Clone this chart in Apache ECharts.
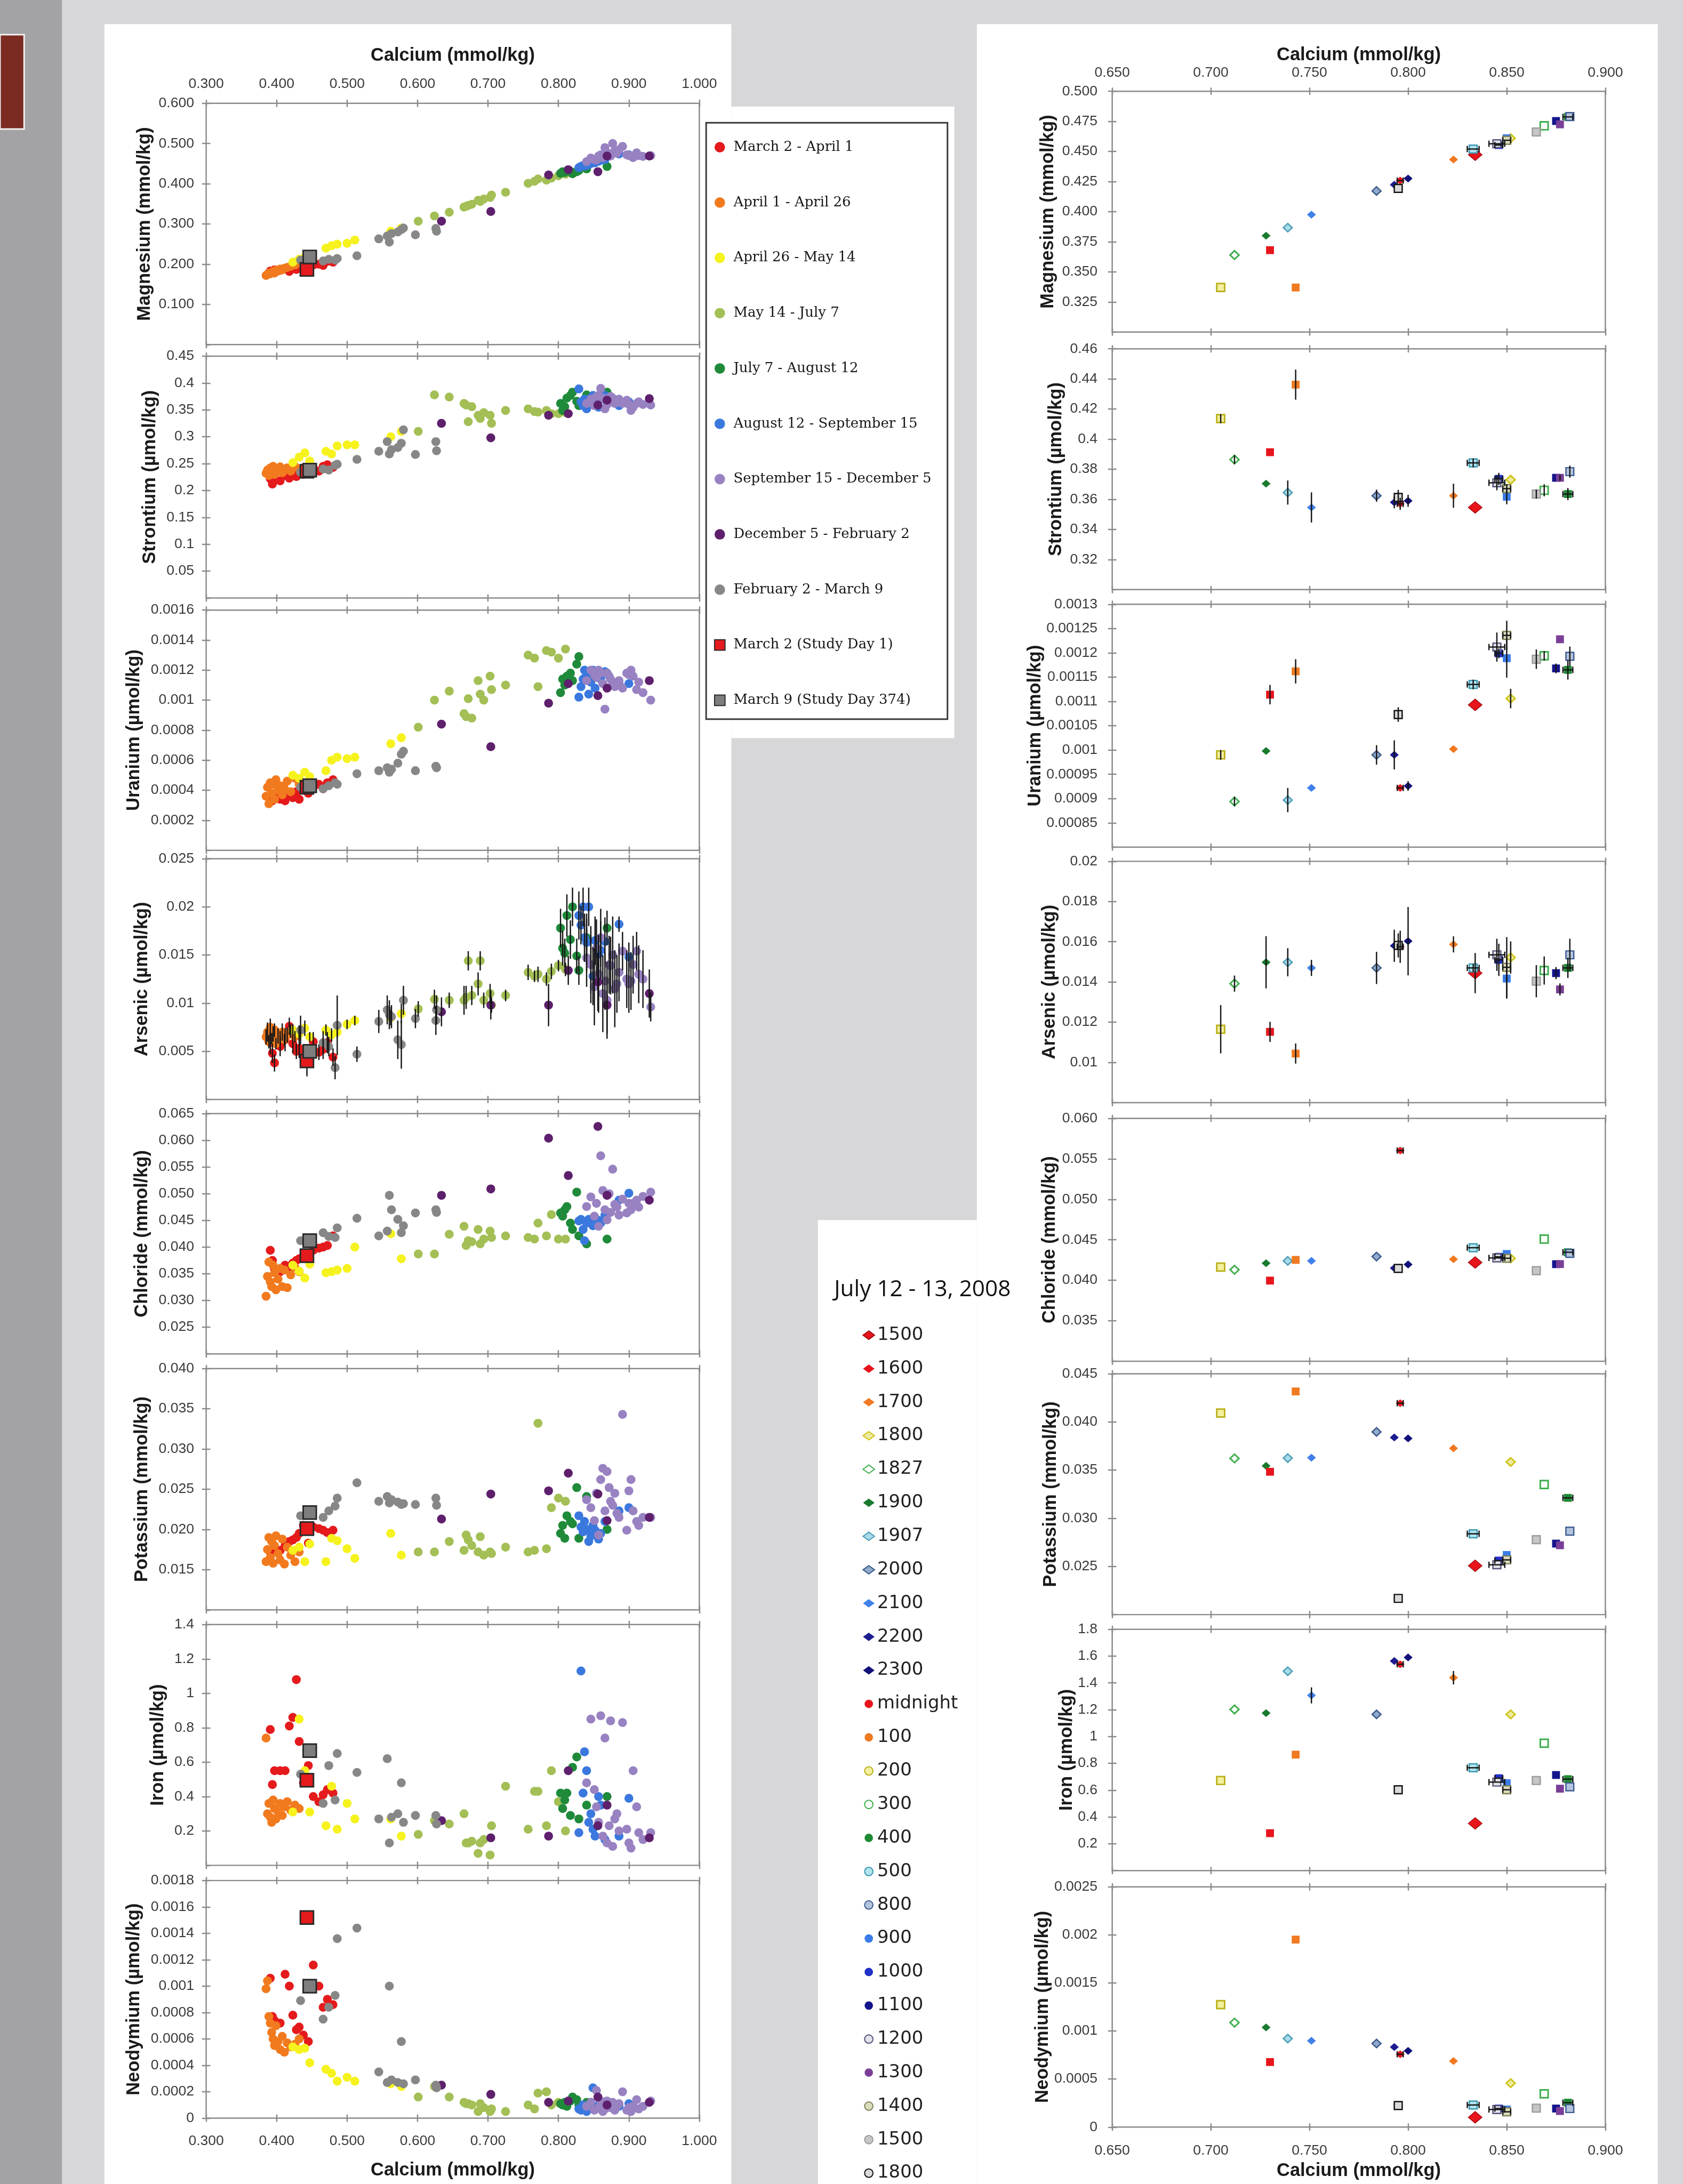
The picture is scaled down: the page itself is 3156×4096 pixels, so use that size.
<!DOCTYPE html>
<html><head><meta charset="utf-8"><title>Calcium cross-plots</title>
<script src="https://cdn.jsdelivr.net/npm/echarts@6.0.0/dist/echarts.min.js"></script>
<style>html,body{margin:0;padding:0;background:#d7d7d9;overflow:hidden}#c{width:3156px;height:4096px}</style>
</head><body><div id="c"></div>
<script>
// ================= DATA =================
// Left column: seasonal samples. Row = [Ca, Mg, Sr, U, As, Cl, K, Fe, Nd, As error]
const periodNames = ['March 2 - April 1','April 1 - April 26','April 26 - May 14','May 14 - July 7','July 7 - August 12','August 12 - September 15','September 15 - December 5','December 5 - February 2','February 2 - March 9'];
const studyDayNames = ['March 2 (Study Day 1)','March 9 (Study Day 374)'];

const marchApril = [
[0.391,0.183,0.222,0.00036,0.0059,0.0394,0.0172,0.79,0.00106,0.0012],
[0.394,0.180,0.212,0.00033,0.0048,0.0375,0.0175,0.47,0.00077,0.0010],
[0.397,0.186,0.225,0.00035,0.0038,0.0360,0.0178,0.55,0.00074,0.0009],
[0.405,0.185,0.218,0.00034,0.0055,0.0354,0.0174,0.55,0.00072,0.0010],
[0.412,0.189,0.228,0.00033,0.0062,0.0366,0.0180,0.55,0.00109,0.0012],
[0.418,0.182,0.223,0.00037,0.0076,0.0362,0.0185,0.81,0.00100,0.0009],
[0.423,0.190,0.231,0.00035,0.0058,0.0370,0.0187,0.86,0.00078,0.0010],
[0.428,0.187,0.226,0.00039,0.0050,0.0375,0.0190,1.08,0.00067,0.0008],
[0.432,0.194,0.235,0.00034,0.0053,0.0378,0.0195,0.72,0.00069,0.0010],
[0.438,0.190,0.230,0.00040,0.0047,0.0384,0.0205,0.48,0.00063,0.0009],
[0.445,0.196,0.238,0.00038,0.0045,0.0388,0.0183,0.58,0.00058,0.0012],
[0.452,0.198,0.242,0.00042,0.0060,0.0394,0.0203,0.40,0.00116,0.0010],
[0.460,0.200,0.236,0.00044,0.0049,0.0398,0.0201,0.37,0.00100,0.0008],
[0.466,0.197,0.245,0.00041,0.0052,0.0400,0.0199,0.41,0.00084,0.0010],
[0.472,0.207,0.248,0.00045,0.0059,0.0403,0.0196,0.44,0.00090,0.0011],
[0.480,0.205,0.243,0.00047,0.0044,0.0421,0.0199,0.42,0.00086,0.0009]];
const aprilApril = [
[0.385,0.172,0.232,0.00036,0.0065,0.0308,0.0160,0.74,0.00098,0.0008],
[0.387,0.175,0.238,0.00042,0.0070,0.0345,0.0175,0.30,0.00104,0.0010],
[0.389,0.178,0.228,0.00031,0.0060,0.0372,0.0190,0.36,0.00077,0.0007],
[0.391,0.176,0.242,0.00045,0.0075,0.0335,0.0165,0.28,0.00072,0.0009],
[0.393,0.180,0.235,0.00038,0.0063,0.0326,0.0185,0.25,0.00065,0.0006],
[0.395,0.182,0.245,0.00044,0.0068,0.0366,0.0158,0.38,0.00060,0.0008],
[0.397,0.178,0.230,0.00034,0.0072,0.0352,0.0180,0.33,0.00055,0.0007],
[0.399,0.185,0.240,0.00047,0.0058,0.0320,0.0192,0.27,0.00070,0.0006],
[0.402,0.183,0.236,0.00040,0.0066,0.0340,0.0170,0.31,0.00058,0.0008],
[0.405,0.188,0.244,0.00043,0.0064,0.0360,0.0162,0.36,0.00052,0.0007],
[0.408,0.186,0.233,0.00037,0.0070,0.0326,0.0188,0.29,0.00062,0.0009],
[0.411,0.190,0.239,0.00041,0.0062,0.0357,0.0157,0.34,0.00050,0.0006],
[0.415,0.192,0.242,0.00046,0.0067,0.0324,0.0178,0.37,0.00057,0.0008],
[0.420,0.195,0.236,0.00039,0.0071,0.0348,0.0168,0.32,0.00054,0.0007],
[0.426,0.198,0.245,0.00048,0.0065,0.0362,0.0160,0.35,0.00056,0.0006],
[0.432,0.203,0.240,0.00044,0.0069,0.0354,0.0172,0.33,0.00060,0.0008]];
const aprilMay = [
[0.423,0.205,0.252,0.00050,0.0072,0.0366,0.0174,0.31,0.00054,0.0006],
[0.432,0.212,0.262,0.00048,0.0068,0.0355,0.0178,0.85,0.00052,0.0006],
[0.440,0.218,0.270,0.00052,0.0074,0.0342,0.0160,0.55,0.00053,0.0008],
[0.447,0.215,0.255,0.00049,0.0065,0.0368,0.0182,0.31,0.00042,0.0005],
[0.470,0.240,0.273,0.00053,0.0072,0.0352,0.0160,0.23,0.00037,0.0006],
[0.478,0.246,0.268,0.00060,0.0067,0.0354,0.0189,0.46,0.00034,0.0007],
[0.486,0.250,0.283,0.00062,0.0070,0.0357,0.0186,0.21,0.00028,0.0006],
[0.500,0.252,0.285,0.00061,0.0078,0.0360,0.0176,0.36,0.00031,0.0005],
[0.511,0.260,0.285,0.00062,0.0082,0.0400,0.0164,0.27,0.00028,0.0005],
[0.562,0.282,0.300,0.00071,0.0085,0.0425,0.0195,0.27,0.00026,0.0008],
[0.577,0.290,0.310,0.00075,0.0089,0.0378,0.0168,0.17,0.00024,0.0010]];
const mayJuly = [
[0.601,0.307,0.310,0.00082,0.0094,0.0387,0.0172,0.18,0.00016,0.0008],
[0.624,0.320,0.378,0.00100,0.0104,0.0387,0.0172,0.26,0.00024,0.0010],
[0.645,0.329,0.374,0.00106,0.0103,0.0424,0.0185,0.24,0.00016,0.0008],
[0.666,0.342,0.362,0.00091,0.0103,0.0439,0.0174,0.30,0.00012,0.0015],
[0.669,0.344,0.359,0.00089,0.0106,0.0403,0.0193,0.13,0.00011,0.0012],
[0.672,0.346,0.328,0.00101,0.0144,0.0412,0.0187,0.13,0.00011,0.0010],
[0.677,0.349,0.356,0.00088,0.0108,0.0410,0.0180,0.14,0.00010,0.0010],
[0.686,0.359,0.340,0.00113,0.0120,0.0433,0.0172,0.07,0.00005,0.0012],
[0.689,0.356,0.334,0.00104,0.0144,0.0406,0.0191,0.13,0.00011,0.0010],
[0.694,0.362,0.345,0.00100,0.0103,0.0415,0.0168,0.15,0.00008,0.0008],
[0.703,0.366,0.340,0.00116,0.0110,0.0430,0.0172,0.06,0.00005,0.0010],
[0.705,0.372,0.325,0.00107,0.0098,0.0418,0.0170,0.23,0.00007,0.0008],
[0.725,0.379,0.349,0.00110,0.0108,0.0421,0.0178,0.46,0.00005,0.0006],
[0.757,0.401,0.352,0.00130,0.0132,0.0418,0.0172,0.21,0.00010,0.0008],
[0.766,0.406,0.347,0.00128,0.0128,0.0415,0.0174,0.43,0.00007,0.0006],
[0.771,0.412,0.346,0.00109,0.0130,0.0445,0.0332,0.43,0.00019,0.0008],
[0.783,0.409,0.349,0.00133,0.0125,0.0421,0.0176,0.23,0.00020,0.0007],
[0.790,0.414,0.343,0.00132,0.0133,0.0461,0.0227,0.55,0.00010,0.0008],
[0.800,0.420,0.343,0.00128,0.0139,0.0415,0.0239,0.37,0.00012,0.0006],
[0.810,0.424,0.345,0.00134,0.0135,0.0415,0.0235,0.20,0.00010,0.0007]];
const julyAugust = [
[0.803,0.426,0.362,0.00105,0.0178,0.0464,0.0195,0.42,0.00011,0.0020],
[0.806,0.430,0.349,0.00114,0.0157,0.0458,0.0205,0.33,0.00010,0.0018],
[0.809,0.428,0.356,0.00110,0.0152,0.0470,0.0189,0.38,0.00012,0.0015],
[0.812,0.432,0.372,0.00116,0.0191,0.0476,0.0217,0.42,0.00009,0.0022],
[0.817,0.431,0.377,0.00118,0.0166,0.0445,0.0210,0.29,0.00013,0.0020],
[0.820,0.425,0.383,0.00113,0.0200,0.0433,0.0207,0.57,0.00016,0.0020],
[0.826,0.430,0.366,0.00124,0.0149,0.0503,0.0252,0.63,0.00014,0.0018],
[0.829,0.433,0.358,0.00129,0.0134,0.0421,0.0189,0.27,0.00010,0.0015],
[0.840,0.437,0.378,0.00115,0.0168,0.0406,0.0241,0.35,0.00012,0.0020],
[0.869,0.443,0.383,0.00118,0.0178,0.0415,0.0200,0.40,0.00011,0.0018]];
const augustSeptember = [
[0.829,0.440,0.389,0.00102,0.0191,0.0449,0.0217,0.19,0.00007,0.0025],
[0.832,0.443,0.365,0.00109,0.0181,0.0452,0.0203,1.13,0.00006,0.0020],
[0.835,0.445,0.358,0.00114,0.0200,0.0433,0.0197,0.42,0.00010,0.0020],
[0.837,0.444,0.370,0.00120,0.0168,0.0412,0.0210,0.66,0.00008,0.0025],
[0.840,0.446,0.352,0.00117,0.0163,0.0445,0.0200,0.55,0.00005,0.0030],
[0.843,0.447,0.360,0.00104,0.0200,0.0452,0.0185,0.25,0.00009,0.0020],
[0.846,0.450,0.372,0.00112,0.0140,0.0448,0.0192,0.30,0.00012,0.0030],
[0.849,0.454,0.377,0.00120,0.0128,0.0440,0.0205,0.21,0.00023,0.0030],
[0.852,0.452,0.365,0.00108,0.0165,0.0455,0.0199,0.17,0.00008,0.0025],
[0.857,0.456,0.355,0.00115,0.0151,0.0450,0.0188,0.40,0.00010,0.0020],
[0.860,0.458,0.370,0.00114,0.0155,0.0445,0.0195,0.35,0.00007,0.0030],
[0.866,0.460,0.377,0.00119,0.0164,0.0460,0.0210,0.15,0.00012,0.0025],
[0.886,0.474,0.358,0.00111,0.0182,0.0488,0.0223,0.17,0.00009,0.0008],
[0.900,0.472,0.365,0.00111,0.0148,0.0501,0.0227,0.39,0.00011,0.0015]];
const septemberDecember = [
[0.840,0.455,0.362,0.00113,0.0147,0.0476,0.0237,0.48,0.00009,0.0030],
[0.846,0.464,0.370,0.00120,0.0140,0.0494,0.0227,0.85,0.00012,0.0040],
[0.851,0.460,0.358,0.00117,0.0117,0.0458,0.0211,0.44,0.00006,0.0040],
[0.854,0.459,0.375,0.00115,0.0157,0.0482,0.0245,0.34,0.00021,0.0030],
[0.857,0.469,0.377,0.00120,0.0130,0.0439,0.0193,0.25,0.00008,0.0040],
[0.860,0.472,0.390,0.00118,0.0168,0.0571,0.0262,0.87,0.00013,0.0030],
[0.863,0.465,0.372,0.00111,0.0110,0.0506,0.0276,0.17,0.00005,0.0040],
[0.866,0.490,0.352,0.00094,0.0123,0.0470,0.0223,0.74,0.00007,0.0030],
[0.869,0.478,0.360,0.00118,0.0103,0.0451,0.0272,0.13,0.00013,0.0040],
[0.872,0.470,0.368,0.00116,0.0140,0.0500,0.0252,0.23,0.00010,0.0030],
[0.874,0.469,0.375,0.00114,0.0139,0.0465,0.0235,0.84,0.00008,0.0030],
[0.877,0.500,0.372,0.00112,0.0150,0.0546,0.0230,0.11,0.00012,0.0040],
[0.880,0.482,0.362,0.00109,0.0115,0.0480,0.0245,0.27,0.00006,0.0040],
[0.883,0.476,0.365,0.00111,0.0120,0.0475,0.0220,0.30,0.00009,0.0030],
[0.886,0.485,0.370,0.00113,0.0132,0.0460,0.0215,0.20,0.00011,0.0030],
[0.891,0.493,0.362,0.00108,0.0154,0.0490,0.0343,0.83,0.00020,0.0020],
[0.897,0.472,0.368,0.00118,0.0125,0.0464,0.0199,0.21,0.00006,0.0030],
[0.900,0.470,0.360,0.00117,0.0120,0.0482,0.0248,0.13,0.00008,0.0030],
[0.903,0.469,0.349,0.00120,0.0123,0.0470,0.0262,0.10,0.00005,0.0030],
[0.906,0.465,0.355,0.00116,0.0140,0.0482,0.0223,0.55,0.00009,0.0030],
[0.911,0.477,0.362,0.00107,0.0154,0.0488,0.0210,0.34,0.00014,0.0020],
[0.914,0.470,0.365,0.00112,0.0130,0.0475,0.0205,0.19,0.00007,0.0030],
[0.920,0.468,0.360,0.00105,0.0125,0.0495,0.0215,0.15,0.00009,0.0030],
[0.931,0.470,0.359,0.00100,0.0096,0.0503,0.0215,0.19,0.00013,0.0015]];
const decemberFebruary = [
[0.634,0.307,0.325,0.00084,0.0091,0.0497,0.0213,0.26,0.00025,0.0015],
[0.704,0.331,0.298,0.00069,0.0098,0.0509,0.0244,0.16,0.00018,0.0015],
[0.786,0.422,0.340,0.00098,0.0098,0.0604,0.0248,0.17,0.00012,0.0022],
[0.814,0.435,0.343,0.00111,0.0134,0.0534,0.0270,0.55,0.00013,0.0015],
[0.856,0.430,0.359,0.00103,0.0122,0.0626,0.0244,0.23,0.00016,0.0030],
[0.869,0.469,0.368,0.00108,0.0098,0.0497,0.0211,0.35,0.00010,0.0030],
[0.929,0.469,0.371,0.00113,0.0110,0.0488,0.0215,0.16,0.00012,0.0025]];
const februaryMarch = [
[0.434,0.210,0.234,0.00042,0.0072,0.0412,0.0217,0.53,0.00089,0.0015],
[0.466,0.208,0.240,0.00041,0.0059,0.0427,0.0215,0.36,0.00075,0.0012],
[0.474,0.212,0.238,0.00043,0.0055,0.0420,0.0223,0.58,0.00084,0.0010],
[0.483,0.210,0.247,0.00045,0.0033,0.0418,0.0229,0.38,0.00093,0.0012],
[0.486,0.214,0.249,0.00044,0.0077,0.0436,0.0239,0.65,0.00136,0.0031],
[0.514,0.221,0.258,0.00051,0.0047,0.0454,0.0258,0.54,0.00144,0.0008],
[0.545,0.263,0.273,0.00053,0.0081,0.0421,0.0235,0.27,0.00035,0.0012],
[0.557,0.270,0.291,0.00055,0.0093,0.0430,0.0241,0.62,0.00027,0.0015],
[0.560,0.255,0.268,0.00052,0.0088,0.0497,0.0233,0.13,0.00100,0.0015],
[0.563,0.276,0.276,0.00054,0.0086,0.0470,0.0237,0.28,0.00029,0.0012],
[0.572,0.280,0.280,0.00058,0.0062,0.0452,0.0234,0.30,0.00027,0.0020],
[0.577,0.286,0.288,0.00064,0.0057,0.0427,0.0231,0.48,0.00058,0.0025],
[0.580,0.290,0.313,0.00066,0.0103,0.0440,0.0232,0.25,0.00026,0.0015],
[0.597,0.273,0.267,0.00053,0.0084,0.0464,0.0231,0.29,0.00029,0.0010],
[0.626,0.289,0.291,0.00056,0.0082,0.0470,0.0239,0.29,0.00025,0.0015],
[0.627,0.282,0.274,0.00055,0.0093,0.0465,0.0230,0.24,0.00023,0.0015]];
const studyDay1 = [[0.443,0.187,0.236,0.00042,0.0040,0.0384,0.0201,0.495,0.00152,0.0016]];
const studyDay374 = [[0.447,0.218,0.238,0.00043,0.0050,0.0412,0.0221,0.667,0.00100,0.0006]];

// Right column: diurnal samples, July 12 - 13, 2008.
// Row = [Ca, Ca err, Mg, Sr, Sr err, U, U err, As, As err, Cl, K, Fe, Fe err, Nd]
const diurnalNames = ['1500','1600','1700','1800','1827','1900','1907','2000','2100','2200','2300','midnight','100','200','300','400','500','800','900','1000','1100','1200','1300','1400','1500 ','1800 '];
const diurnal = [
[0.834,0,0.4473,0.3546,0,0.001093,0,0.01444,0.0010,0.0422,0.02507,0.352,0,0.000102],
[0.796,0.0015,0.4258,0.3570,0.004,0.000922,0,0.01575,0.0008,0.05602,0.04195,1.539,0,0.000758],
[0.823,0,0.4433,0.3624,0.008,0.001002,0,0.01587,0.0004,0.0426,0.03727,1.439,0.05,0.000687],
[0.852,0,0.4610,0.3730,0,0.001106,0.00002,0.01522,0.0008,0.0427,0.03585,1.165,0,0.000457],
[0.712,0,0.3640,0.3864,0.003,0.000894,0.00001,0.01392,0.0004,0.0413,0.03622,1.202,0,0.001087],
[0.728,0,0.3800,0.3704,0,0.000998,0,0.01498,0.0013,0.04211,0.03544,1.175,0,0.001037],
[0.739,0,0.3867,0.3645,0.008,0.000897,0.000025,0.01498,0.0007,0.0424,0.03625,1.487,0,0.000921],
[0.784,0,0.4172,0.3624,0.004,0.000990,0.00002,0.01470,0.0008,0.04293,0.03897,1.165,0,0.000870],
[0.751,0,0.3975,0.3546,0.010,0.000922,0,0.01470,0.0004,0.0424,0.03629,1.307,0.06,0.000898],
[0.793,0,0.4224,0.3580,0.004,0.000990,0.00003,0.01580,0.0008,0.0415,0.03839,1.563,0,0.000833],
[0.800,0,0.4275,0.3590,0.004,0.000926,0.00001,0.01603,0.0017,0.04195,0.03829,1.590,0,0.000793],
[0.730,0,0.3680,0.3913,0,0.001114,0.00002,0.01152,0.0005,0.03996,0.03483,0.279,0,0.000677],
[0.743,0,0.3370,0.4362,0.010,0.001162,0.000025,0.01044,0.0005,0.04252,0.04317,0.865,0,0.001951],
[0.705,0,0.3370,0.4136,0.003,0.000990,0.00001,0.01165,0.0012,0.04163,0.04093,0.672,0,0.001274],
[0.869,0,0.4713,0.3660,0.004,0.001194,0.00001,0.01457,0.0007,0.04508,0.03351,0.950,0,0.000346],
[0.881,0.0025,0.4787,0.3635,0.004,0.001165,0.00002,0.01470,0.0005,0.04346,0.03212,0.682,0,0.000254],
[0.833,0.003,0.4520,0.3842,0.003,0.001135,0.00001,0.01470,0.0002,0.04402,0.02839,0.767,0,0.000230],
[0.882,0,0.4790,0.3784,0.004,0.001193,0.00002,0.01535,0.0008,0.04333,0.02866,0.625,0,0.000193],
[0.850,0,0.4610,0.3617,0.005,0.001189,0.00004,0.01417,0.0010,0.04325,0.02619,0.652,0,0.000183],
[0.846,0.002,0.4553,0.3736,0.004,0.001199,0.00001,0.01510,0.0008,0.0429,0.02561,0.689,0,0.000193],
[0.875,0,0.4753,0.3743,0,0.001168,0.00001,0.01444,0.0003,0.04199,0.02737,0.713,0,0.000193],
[0.845,0.004,0.4564,0.3710,0.005,0.001212,0.00003,0.01535,0.0008,0.04276,0.02517,0.660,0,0.000183],
[0.877,0,0.4725,0.3743,0.002,0.001228,0,0.01363,0.0003,0.0420,0.0272,0.611,0,0.000167],
[0.850,0.002,0.4593,0.3671,0.003,0.001236,0.00003,0.01473,0.0015,0.04272,0.02568,0.603,0,0.000159],
[0.865,0,0.4662,0.3635,0.003,0.001187,0.00002,0.01404,0.0008,0.04118,0.02778,0.672,0,0.000197],
[0.795,0,0.4193,0.3613,0.005,0.001073,0.000015,0.01582,0.0006,0.04146,0.02168,0.603,0,0.000224]];

// axis titles / ranges
const leftAxes = [
 {name:'Magnesium (mmol/kg)', min:0, max:0.6, interval:0.1, fixed:3},
 {name:'Strontium (µmol/kg)', min:0, max:0.45, interval:0.05},
 {name:'Uranium (µmol/kg)', min:0, max:0.0016, interval:0.0002},
 {name:'Arsenic (µmol/kg)', min:0, max:0.025, interval:0.005},
 {name:'Chloride (mmol/kg)', min:0.02, max:0.065, interval:0.005, fixed:3},
 {name:'Potassium (mmol/kg)', min:0.01, max:0.04, interval:0.005, fixed:3},
 {name:'Iron (µmol/kg)', min:0, max:1.4, interval:0.2},
 {name:'Neodymium (µmol/kg)', min:0, max:0.0018, interval:0.0002, showMin:true}];
const rightAxes = [
 {name:'Magnesium (mmol/kg)', min:0.3, max:0.5, interval:0.025, fixed:3},
 {name:'Strontium (µmol/kg)', min:0.30, max:0.46, interval:0.02},
 {name:'Uranium (µmol/kg)', min:0.0008, max:0.0013, interval:0.00005},
 {name:'Arsenic (µmol/kg)', min:0.008, max:0.020, interval:0.002},
 {name:'Chloride (mmol/kg)', min:0.030, max:0.060, interval:0.005, fixed:3},
 {name:'Potassium (mmol/kg)', min:0.020, max:0.045, interval:0.005, fixed:3},
 {name:'Iron (µmol/kg)', min:0, max:1.8, interval:0.2},
 {name:'Neodymium (µmol/kg)', min:0, max:0.0025, interval:0.0005, showMin:true}];
const calciumName = 'Calcium (mmol/kg)';
const leftCa = {min:0.3, max:1.0, interval:0.1};
const rightCa = {min:0.65, max:0.90, interval:0.05};
const legendTitle = 'July 12 - 13, 2008';

// ================= LAYOUT / STYLE =================
const S = 3156 / 3208;
const px = v => v * S;
const AX = '#8a8a8a';
const NARROW = "'Liberation Sans Narrow','Liberation Sans',Arial,sans-serif";
const LABEL = {fontFamily: NARROW, fontSize: px(27), color: '#3a3a3a'};
const NAME = {fontFamily: NARROW, fontSize: px(35), fontWeight: 'bold', color: '#1a1a1a'};

const leftLayout = {left:393, right:1333, yMargin:23, topMargin:23, topGap:73.5, botMargin:30, botGap:82.5,
  panels:[[197,657],[679,1140],[1163,1621],[1637,2096],[2123,2581],[2609,3069],[3097,3556],[3585,4038]],
  gaps:[100,89.5,120,104.5,104.5,104.5,74.5,120.5]};
const rightLayout = {left:2120, right:3060, yMargin:28, topMargin:21, topGap:51, botMargin:31, botGap:66,
  panels:[[174,633],[665,1124],[1152,1615],[1642,2102],[2132,2595],[2619,3078],[3106,3566],[3597,4055]],
  gaps:[104.5,89.5,125.5,101.5,101.5,97.5,68.5,109.5]};

const leftSets = [
 {name:periodNames[0], rows:marchApril, color:'#e41a1c'},
 {name:periodNames[1], rows:aprilApril, color:'#f27a1e'},
 {name:periodNames[2], rows:aprilMay, color:'#f6f21e'},
 {name:periodNames[3], rows:mayJuly, color:'#a3bf55'},
 {name:periodNames[4], rows:julyAugust, color:'#1f8a3a'},
 {name:periodNames[5], rows:augustSeptember, color:'#3a78de'},
 {name:periodNames[6], rows:septemberDecember, color:'#9882c2'},
 {name:periodNames[7], rows:decemberFebruary, color:'#5e1f6c'},
 {name:periodNames[8], rows:februaryMarch, color:'#878787'},
 {name:studyDayNames[0], rows:studyDay1, color:'#e41a1c', square:true},
 {name:studyDayNames[1], rows:studyDay374, color:'#7e7e7e', square:true}];

const diurnalStyle = [
 {sym:'diamond', size:[26,22], color:'#e8141c', border:'#a80c10', bw:1.5},
 {sym:'diamond', size:[17,15], color:'#e8141c'},
 {sym:'diamond', size:[17,15], color:'#f07820'},
 {sym:'diamond', size:[17,16], color:'#eceaa0', border:'#cfc61c', bw:3},
 {sym:'diamond', size:[17,16], color:'#ffffff', border:'#42ae50', bw:3},
 {sym:'diamond', size:[17,15], color:'#1a7a2e'},
 {sym:'diamond', size:[17,16], color:'#a8dcea', border:'#4a9cb4', bw:2.5},
 {sym:'diamond', size:[17,16], color:'#92aacb', border:'#3a5a88', bw:2.5},
 {sym:'diamond', size:[17,15], color:'#4080e8'},
 {sym:'diamond', size:[17,15], color:'#1c1c90'},
 {sym:'diamond', size:[17,15], color:'#10107a'},
 {sym:'rect', size:15, color:'#e8141c'},
 {sym:'rect', size:15, color:'#f07a22'},
 {sym:'rect', size:15, color:'#f4f0a0', border:'#bab21e', bw:3},
 {sym:'rect', size:15, color:'#ffffff', border:'#3cae4c', bw:3},
 {sym:'rect', size:15, color:'#1e8a34'},
 {sym:'rect', size:15, color:'#b4e4f0', border:'#3a98b0', bw:2.5},
 {sym:'rect', size:15, color:'#b4c4de', border:'#3e5c90', bw:2.5},
 {sym:'rect', size:15, color:'#3a7ce8'},
 {sym:'rect', size:15, color:'#2030c8'},
 {sym:'rect', size:15, color:'#14148c'},
 {sym:'rect', size:15, color:'#e2e2ea', border:'#55557a', bw:2.5},
 {sym:'rect', size:15, color:'#7a3e98'},
 {sym:'rect', size:15, color:'#dadcbc', border:'#808058', bw:2.5},
 {sym:'rect', size:15, color:'#c6c6c6', border:'#9a9a9a', bw:2.5},
 {sym:'rect', size:15, color:'#dadada', border:'#111111', bw:2.5}];

const grids = [], xAxes = [], yAxes = [], series = [];
const tick = (inside, len) => ({show:true, inside, length:px(len), lineStyle:{color:AX, width:px(2.5)}});
const fmt3 = v => v.toFixed(3);

function buildPanel(L, xc, yc, p) {
  const [t, b] = L.panels[p];
  const gi = grids.length;
  const first = p === 0, last = p === L.panels.length - 1;
  grids.push({left:px(L.left), top:px(t), width:px(L.right - L.left), height:px(b - t), show:true,
    borderColor:AX, borderWidth:px(2.5), backgroundColor:'rgba(0,0,0,0)', containLabel:false, outerBoundsMode:'none'});
  const bx = {gridIndex:gi, type:'value', min:xc.min, max:xc.max, interval:xc.interval,
    splitLine:{show:false}, axisLine:{show:false, onZero:false}};
  const xOut = xAxes.length;
  xAxes.push(Object.assign({}, bx, {position:'bottom', axisTick:tick(false, 7),
    axisLabel:Object.assign({show:last, margin:px(L.botMargin), formatter:fmt3}, LABEL),
    name:last ? calciumName : '', nameLocation:'middle', nameGap:px(L.botGap), nameTextStyle:NAME}));
  xAxes.push(Object.assign({}, bx, {position:'bottom', axisTick:tick(true, 7), axisLabel:{show:false}}));
  xAxes.push(Object.assign({}, bx, {position:'top', axisTick:tick(false, 7),
    axisLabel:Object.assign({show:first, margin:px(L.topMargin), formatter:fmt3}, LABEL),
    name:first ? calciumName : '', nameLocation:'middle', nameGap:px(L.topGap), nameTextStyle:NAME}));
  xAxes.push(Object.assign({}, bx, {position:'top', axisTick:tick(true, 7), axisLabel:{show:false}}));
  const yOut = yAxes.length;
  const lab = Object.assign({show:true, margin:px(L.yMargin), showMinLabel:!!yc.showMin, showMaxLabel:true}, LABEL);
  if (yc.fixed) lab.formatter = v => v.toFixed(yc.fixed);
  yAxes.push({gridIndex:gi, type:'value', min:yc.min, max:yc.max, interval:yc.interval, position:'left',
    splitLine:{show:false}, axisLine:{show:false, onZero:false}, axisTick:tick(false, 8), axisLabel:lab,
    name:yc.name, nameLocation:'middle', nameGap:px(L.gaps[p]), nameTextStyle:NAME});
  yAxes.push({gridIndex:gi, type:'value', min:yc.min, max:yc.max, interval:yc.interval, position:'left',
    splitLine:{show:false}, axisLine:{show:false, onZero:false}, axisTick:tick(true, 8), axisLabel:{show:false}});
  return {xOut, yOut};
}

function renderErr(params, api) {
  const x = api.value(0), y = api.value(1), ex = api.value(2), ey = api.value(3);
  const st = {stroke:'#161616', lineWidth:px(2.5)};
  const ch = [];
  if (ey > 0) {
    const a = api.coord([x, y - ey]), b = api.coord([x, y + ey]);
    ch.push({type:'line', shape:{x1:a[0], y1:a[1], x2:b[0], y2:b[1]}, style:st});
  }
  if (ex > 0) {
    const a = api.coord([x - ex, y]), b = api.coord([x + ex, y]), c = px(6);
    ch.push({type:'line', shape:{x1:a[0], y1:a[1], x2:b[0], y2:b[1]}, style:st});
    ch.push({type:'line', shape:{x1:a[0], y1:a[1] - c, x2:a[0], y2:a[1] + c}, style:st});
    ch.push({type:'line', shape:{x1:b[0], y1:b[1] - c, x2:b[0], y2:b[1] + c}, style:st});
  }
  return {type:'group', children:ch};
}

// Left column
leftAxes.forEach((yc, p) => {
  const ax = buildPanel(leftLayout, leftCa, yc, p);
  const col = p + 1;
  leftSets.forEach(set => {
    series.push({type:'scatter', name:set.name, xAxisIndex:ax.xOut, yAxisIndex:ax.yOut, silent:true,
      data:set.rows.map(r => [r[0], r[col]]),
      symbol:set.square ? 'rect' : 'circle', symbolSize:px(set.square ? 25 : 17),
      itemStyle:{color:set.color, opacity:1, borderColor:set.square ? '#2a2a2a' : set.color, borderWidth:set.square ? px(3) : 0},
      z:set.square ? 4 : 2});
  });
  if (p === 3) {
    const errData = [];
    leftSets.forEach(set => set.rows.forEach(r => errData.push([r[0], r[4], 0, r[9]])));
    series.push({type:'custom', name:'errLeft', xAxisIndex:ax.xOut, yAxisIndex:ax.yOut, silent:true,
      renderItem:renderErr, data:errData, encode:{x:0, y:1}, z:3});
  }
});

// Right column
const valueCol = [2, 3, 5, 7, 9, 10, 11, 13];
const errCol = [-1, 4, 6, 8, -1, -1, 12, -1];
rightAxes.forEach((yc, p) => {
  const ax = buildPanel(rightLayout, rightCa, yc, p);
  diurnal.forEach((r, j) => {
    const st = diurnalStyle[j];
    const sz = Array.isArray(st.size) ? st.size.map(px) : px(st.size);
    series.push({type:'scatter', name:diurnalNames[j], xAxisIndex:ax.xOut, yAxisIndex:ax.yOut, silent:true,
      data:[[r[0], r[valueCol[p]]]], symbol:st.sym, symbolSize:sz,
      itemStyle:{color:st.color, opacity:1, borderColor:st.border || st.color, borderWidth:st.bw ? px(st.bw) : 0}, z:2});
  });
  const errData = diurnal.map(r => [r[0], r[valueCol[p]], r[1], errCol[p] >= 0 ? r[errCol[p]] : 0]);
  series.push({type:'custom', name:'errRight' + p, xAxisIndex:ax.xOut, yAxisIndex:ax.yOut, silent:true,
    renderItem:renderErr, data:errData, encode:{x:0, y:1}, z:3});
});

const squareIcon = 'path://M0,0L10,0L10,10L0,10Z';
const legends = [
  {data:leftSets.map(s => ({name:s.name, icon:s.square ? squareIcon : 'circle'})),
   orient:'vertical', left:px(1361), top:px(267.5), height:px(1130), itemWidth:px(42), itemHeight:px(20), itemGap:px(79.0), padding:0,
   selectedMode:false, textStyle:{fontFamily:"'DejaVu Serif',serif", fontSize:px(26.4), color:'#151515'}},
  {data:diurnalNames.map((n, j) => ({name:n, icon:diurnalStyle[j].sym === 'diamond' ? 'diamond' : 'circle'})),
   orient:'vertical', left:px(1644), top:px(2528), height:px(1700), itemWidth:px(22), itemHeight:px(16), itemGap:px(29.34), padding:0,
   selectedMode:false, textStyle:{fontFamily:"'DejaVu Sans',sans-serif", fontSize:px(34.5), color:'#222'}}];

const R = (x, y, w, h, fill, extra) => Object.assign({type:'rect', z:-100, silent:true,
  shape:{x:px(x), y:px(y), width:px(w), height:px(h)}, style:{fill}}, extra || {});
const graphics = [
  R(0, 0, 118, 4164, '#a3a3a5'),
  R(0, 66, 46, 180, '#7b2b22', {style:{fill:'#7b2b22', stroke:'#f0f0f0', lineWidth:px(3)}}),
  R(199, 46, 1195, 4118, '#ffffff'),
  R(1394, 203, 425, 1204, '#ffffff'),
  R(1862, 46, 1298, 4118, '#ffffff'),
  R(1559, 2326, 303, 1838, '#ffffff'),
  {type:'rect', z:-50, silent:true, shape:{x:px(1346), y:px(234), width:px(460), height:px(1137)},
   style:{fill:'#ffffff', stroke:'#3a3a3a', lineWidth:px(3)}},
  {type:'text', z:10, silent:true, x:px(1590), y:px(2459),
   style:{text:legendTitle, font:'normal ' + px(43) + "px 'Open Sans',sans-serif", fill:'#111',
     verticalAlign:'middle', textVerticalAlign:'middle', align:'left'}}];

const chart = echarts.init(document.getElementById('c'), null, {renderer:'canvas', width:3156, height:4096});
chart.setOption({
  animation:false,
  backgroundColor:'#d7d7d9',
  textStyle:{fontFamily:NARROW},
  graphic:{elements:graphics},
  legend:legends,
  grid:grids, xAxis:xAxes, yAxis:yAxes, series:series
});
</script></body></html>
